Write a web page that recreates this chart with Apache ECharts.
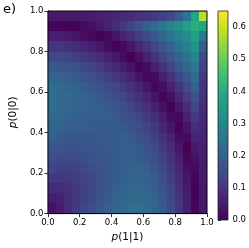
<!DOCTYPE html>
<html>
<head>
<meta charset="utf-8">
<script src="https://cdn.jsdelivr.net/npm/echarts@6/dist/echarts.min.js"></script>
<style>html,body{margin:0;padding:0;background:#fff;}#c{width:249px;height:248px;}</style>
</head>
<body>
<div id="c"></div>
<script>
// cell centres along p(1|1) (x) and p(0|0) (y)
const cellCenters = [0.025,0.075,0.125,0.175,0.225,0.275,0.325,0.375,0.425,0.475,0.525,0.575,0.625,0.675,0.725,0.775,0.825,0.875,0.925,0.975];
const axisTicks = [0.0,0.2,0.4,0.6,0.8,1.0];
const colorbarTicks = [0.0,0.1,0.2,0.3,0.4,0.5,0.6];
const colorMin = 0.0;
const colorMax = 0.65;
const panelLabel = 'e)';
const xLabel = 'p(1|1)';
const yLabel = 'p(0|0)';
const viridis = ['#440154','#482475','#414487','#355f8d','#2a788e','#21918c','#22a884','#44bf70','#7ad151','#bddf26','#fde725'];

// rows from p(0|0)=0.025 (bottom) to 0.975 (top); each row from p(1|1)=0.025 to 0.975
const r00 = [.03,.054,.08,.107,.13,.152,.174,.194,.208,.221,.229,.235,.23,.21,.18,.145,.10,.057,.01,.045];
const r01 = [.054,.06,.079,.103,.122,.144,.165,.185,.199,.212,.22,.227,.221,.202,.174,.138,.097,.053,.007,.045];
const r02 = [.08,.079,.089,.105,.122,.141,.161,.179,.192,.204,.213,.218,.21,.19,.165,.129,.09,.047,.003,.045];
const r03 = [.107,.103,.105,.114,.127,.144,.162,.175,.188,.198,.207,.21,.201,.18,.154,.118,.08,.038,.006,.048];
const r04 = [.13,.122,.122,.127,.137,.151,.164,.175,.186,.194,.202,.202,.189,.168,.14,.106,.068,.028,.017,.05];
const r05 = [.152,.144,.141,.144,.151,.159,.168,.177,.185,.193,.197,.191,.176,.154,.126,.092,.055,.015,.03,.053];
const r06 = [.174,.165,.161,.162,.164,.168,.174,.18,.186,.191,.19,.18,.162,.14,.109,.077,.04,.002,.045,.057];
const r07 = [.194,.185,.179,.175,.175,.177,.18,.183,.188,.189,.181,.166,.147,.121,.092,.059,.023,.017,.063,.062];
const r08 = [.208,.199,.192,.188,.186,.185,.186,.188,.187,.18,.168,.151,.13,.103,.074,.04,.005,.038,.083,.068];
const r09 = [.221,.212,.204,.198,.194,.193,.191,.189,.18,.169,.153,.134,.109,.082,.053,.02,.017,.061,.106,.075];
const r10 = [.229,.22,.213,.207,.202,.197,.19,.181,.168,.153,.136,.112,.088,.06,.031,.001,.043,.085,.13,.083];
const r11 = [.235,.227,.218,.21,.202,.191,.18,.166,.151,.134,.112,.089,.065,.037,.007,.03,.071,.115,.165,.092];
const r12 = [.23,.221,.21,.201,.189,.176,.162,.147,.13,.109,.088,.065,.039,.011,.022,.061,.10,.148,.197,.10];
const r13 = [.21,.202,.19,.18,.168,.154,.14,.121,.103,.082,.06,.037,.011,.02,.056,.093,.137,.184,.23,.11];
const r14 = [.18,.174,.165,.154,.14,.126,.109,.092,.074,.053,.031,.007,.022,.056,.09,.131,.176,.221,.26,.125];
const r15 = [.145,.138,.129,.118,.106,.092,.077,.059,.04,.02,.001,.03,.061,.093,.131,.173,.216,.254,.292,.15];
const r16 = [.10,.097,.09,.08,.068,.055,.04,.023,.005,.017,.043,.071,.10,.137,.176,.216,.252,.288,.325,.19];
const r17 = [.057,.053,.047,.038,.028,.015,.002,.017,.038,.061,.085,.115,.148,.184,.221,.254,.288,.322,.366,.26];
const r18 = [.01,.007,.003,.006,.017,.03,.045,.063,.083,.106,.13,.165,.197,.23,.26,.292,.325,.366,.408,.38];
const r19 = [.045,.045,.045,.048,.05,.053,.057,.062,.068,.075,.083,.092,.10,.11,.125,.15,.19,.26,.38,.58];
const rows = [r00,r01,r02,r03,r04,r05,r06,r07,r08,r09,r10,r11,r12,r13,r14,r15,r16,r17,r18,r19];

const cells = [];
rows.forEach((row, j) => row.forEach((v, i) => cells.push([cellCenters[i], cellCenters[j], v])));
const half = (cellCenters[1] - cellCenters[0]) / 2;

const FONT = 'DejaVu Sans';
const tickFmt = v => Number(v).toFixed(1);
const axisCommon = {
  type: 'value', min: 0, max: 1, interval: 0.2,
  axisLine: {show: true, lineStyle: {color: '#000', width: 1}},
  axisTick: {show: true, length: 3.5, lineStyle: {color: '#000', width: 0.8}},
  axisLabel: {formatter: tickFmt, fontSize: 8.5, color: '#000', fontFamily: FONT, margin: 4.5},
  splitLine: {show: false},
  nameLocation: 'middle',
  nameTextStyle: {fontSize: 10.5, color: '#000', fontFamily: FONT, rich: {i: {fontStyle: 'italic', fontSize: 10.5, fontFamily: FONT, color: '#000'}}}
};
function mathName(s) { return '{i|' + s[0] + '}' + s.slice(1); }

const chart = echarts.init(document.getElementById('c'), null, {renderer: 'canvas'});
chart.setOption({
  animation: false,
  backgroundColor: '#fff',
  grid: [
    {left: 36, top: 11, width: 171, height: 209, show: true, z: 10, backgroundColor: 'transparent', borderColor: '#000', borderWidth: 1},
    {left: 218, top: 11, width: 12, height: 209, show: true, z: 10, backgroundColor: 'transparent', borderColor: '#222', borderWidth: 0.8}
  ],
  xAxis: [
    Object.assign({}, axisCommon, {gridIndex: 0, name: mathName(xLabel), nameGap: 13,
      axisLabel: Object.assign({}, axisCommon.axisLabel, {customValues: axisTicks})}),
    {type: 'value', gridIndex: 1, min: 0, max: 1, show: false}
  ],
  yAxis: [
    Object.assign({}, axisCommon, {gridIndex: 0, name: mathName(yLabel), nameGap: 20,
      axisLabel: Object.assign({}, axisCommon.axisLabel, {customValues: axisTicks})}),
    {type: 'value', gridIndex: 1, min: colorMin, max: colorMax, position: 'right',
      axisLine: {show: false},
      axisTick: {show: true, length: 3, lineStyle: {color: '#000', width: 0.8}, customValues: colorbarTicks},
      axisLabel: {formatter: tickFmt, fontSize: 8.5, color: '#000', fontFamily: FONT, margin: 4.5, customValues: colorbarTicks},
      splitLine: {show: false}}
  ],
  visualMap: {
    type: 'continuous', show: false, min: colorMin, max: colorMax, dimension: 2, seriesIndex: 0,
    inRange: {color: viridis}
  },
  series: [
    {
      type: 'custom', xAxisIndex: 0, yAxisIndex: 0, data: cells,
      renderItem: function (params, api) {
        const x = api.value(0), y = api.value(1);
        const p0 = api.coord([x - half, y + half]);
        const p1 = api.coord([x + half, y - half]);
        const x0 = Math.round(p0[0]), y0 = Math.round(p0[1]);
        return {type: 'rect', shape: {x: x0, y: y0, width: Math.round(p1[0]) - x0, height: Math.round(p1[1]) - y0},
          style: {fill: api.visual('color')}};
      }
    },
    {
      type: 'custom', xAxisIndex: 1, yAxisIndex: 1, data: [[colorMin, colorMax]],
      renderItem: function (params, api) {
        const p0 = api.coord([0, api.value(1)]);
        const p1 = api.coord([1, api.value(0)]);
        const stops = viridis.map((c, k) => ({offset: k / (viridis.length - 1), color: c}));
        return {type: 'rect', shape: {x: p0[0], y: p0[1], width: p1[0] - p0[0], height: p1[1] - p0[1]},
          style: {fill: new echarts.graphic.LinearGradient(0, 1, 0, 0, stops)}};
      }
    }
  ],
  graphic: [
    {type: 'text', left: 3, top: 3, style: {text: panelLabel, fontSize: 13, fontFamily: FONT, fill: '#000'}}
  ]
});
</script>
</body>
</html>
